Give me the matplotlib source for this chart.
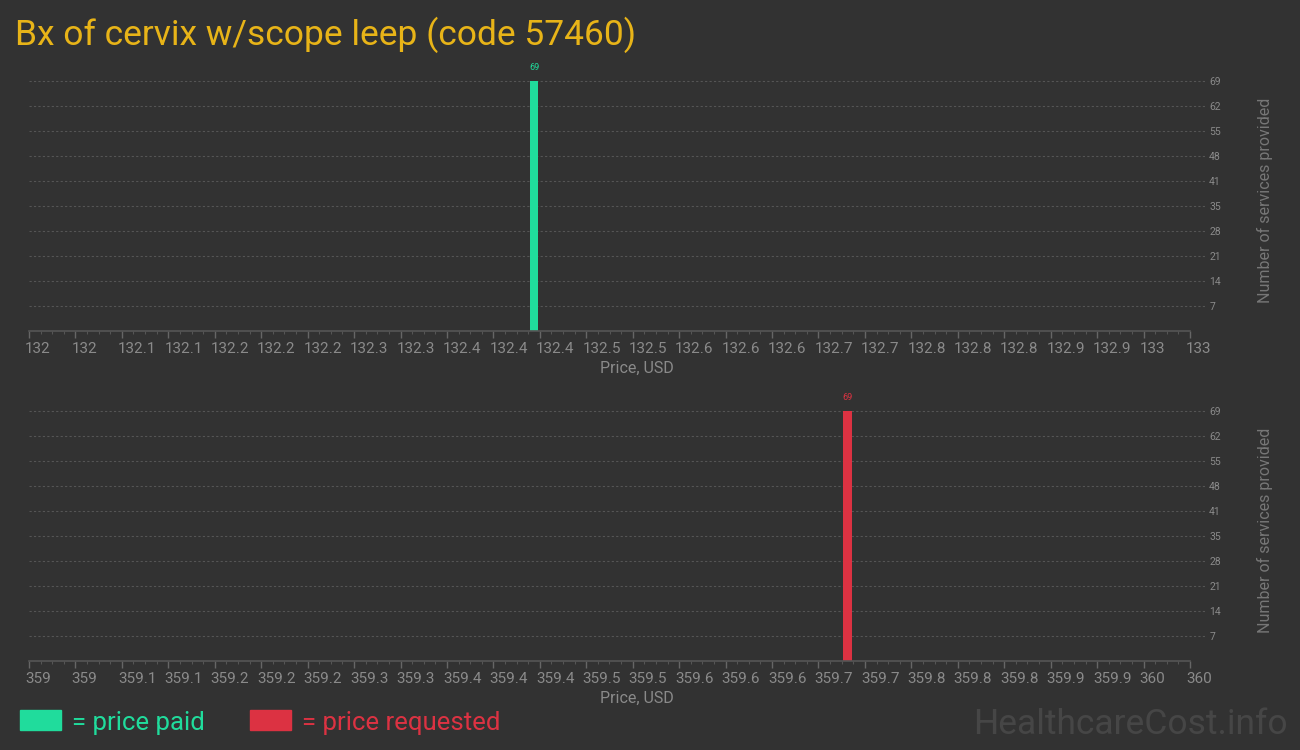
import numpy as np
import matplotlib
matplotlib.use("Agg")
import matplotlib.pyplot as plt
from matplotlib.ticker import FixedLocator
from matplotlib.transforms import ScaledTranslation

# data
title = "Bx of cervix w/scope leep (code 57460)"
paid_prices = [132.435]
paid_counts = [69]
paid_range = [132, 133]
req_prices = [359.705]
req_counts = [69]
req_range = [359, 360]

bg = "#323232"
green = "#20dc9c"
red = "#dc3242"
tick_col = "#8a8a8a"
grid_col = "#555555"

narrow = ["Roboto", "DejaVu Sans"]
regular = ["Roboto", "DejaVu Sans"]

W, H = 1300, 750
fig = plt.figure(figsize=(W / 100, H / 100), dpi=100, facecolor=bg)


def px(x, y):
    return x / W, 1 - y / H


def draw_panel(bottom_px, prices, counts, xr, color):
    left, right = 29, 1205
    top = bottom_px - 250 * 72 / 69
    ax = fig.add_axes([left / W, 1 - bottom_px / H, (right - left) / W, (bottom_px - top) / H])
    ax.set_facecolor(bg)
    span = (right - left) / 1161
    ax.set_xlim(xr[0], xr[0] + span)
    ax.set_ylim(0, 72)
    ax.bar(prices, counts, width=0.0075, color=color, zorder=3)
    for p, c in zip(prices, counts):
        ax.annotate(str(c), (p, c), xytext=(0, 6), textcoords="offset points",
                    ha="center", va="bottom", color=color, fontsize=6.5, family=narrow)

    # y grid / ticks on right
    ymax = max(counts)
    yt = np.linspace(0, ymax, 11)[1:]
    ax.yaxis.tick_right()
    ax.set_yticks(yt)
    ax.set_yticklabels([str(int(np.floor(v + 0.5))) for v in yt], family=narrow)
    ax.tick_params(axis="y", length=0, pad=3, labelsize=7.5, labelcolor=tick_col)
    ax.grid(axis="y", color=grid_col, linestyle=(0, (2, 2)), linewidth=0.8, zorder=0)

    # x ticks
    major = np.linspace(xr[0], xr[1], 26)
    minor = np.linspace(xr[0], xr[1], 101)
    ax.xaxis.set_major_locator(FixedLocator(major))
    ax.xaxis.set_minor_locator(FixedLocator(minor))
    ax.set_xticklabels([f"{v:.1f}".rstrip("0").rstrip(".") for v in major],
                       family=narrow, ha="left")
    ax.tick_params(axis="x", which="major", length=5, width=1, color="#666666",
                   labelsize=11, labelcolor=tick_col, pad=3)
    ax.tick_params(axis="x", which="minor", length=2.5, width=0.8, color="#555555")
    off = ScaledTranslation(-0.04, 0, fig.dpi_scale_trans)
    for lab in ax.get_xticklabels():
        lab.set_transform(lab.get_transform() + off)

    for s in ax.spines.values():
        s.set_visible(False)
    ax.axhline(0, xmin=0, xmax=1 / span, color="#555555", linewidth=1.2, zorder=4,
               clip_on=False)

    fig.text(*px(637, bottom_px + 38), "Price, USD", ha="center", va="center",
             color=tick_col, fontsize=11.5, family=narrow)
    fig.text(*px(1265, bottom_px - 130), "Number of services provided", rotation=90,
             ha="center", va="center", color="#777777", fontsize=11.5, family=regular)
    return ax


draw_panel(330.7, paid_prices, paid_counts, paid_range, green)
draw_panel(660.7, req_prices, req_counts, req_range, red)

fig.text(*px(15, 45), title, ha="left", va="baseline", color="#e8b418",
         fontsize=25.5, family=narrow)

# legend
fig.patches.append(plt.Rectangle(px(20, 730), 41 / W, 20 / H, color=green,
                                 transform=fig.transFigure, figure=fig))
fig.text(*px(72, 730), "= price paid", ha="left", va="baseline", color=green,
         fontsize=18.5, family=narrow)
fig.patches.append(plt.Rectangle(px(250, 730), 41 / W, 20 / H, color=red,
                                 transform=fig.transFigure, figure=fig))
fig.text(*px(302, 730), "= price requested", ha="left", va="baseline", color=red,
         fontsize=18.5, family=narrow)

fig.text(*px(1288, 734), "HealthcareCost.info", ha="right", va="baseline",
         color="#464646", fontsize=25.5, family=narrow)

fig.savefig("out.png", dpi=100, facecolor=bg)
